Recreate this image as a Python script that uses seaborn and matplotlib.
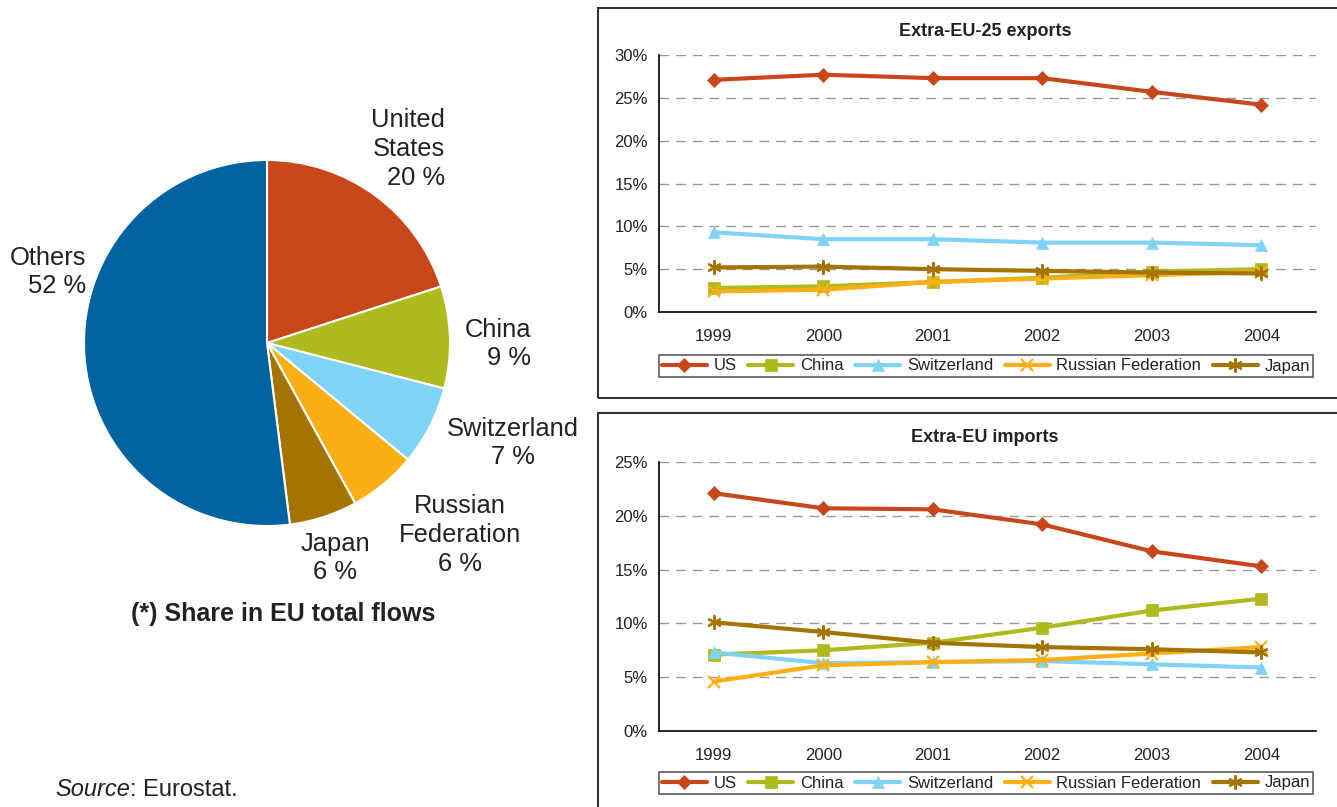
import numpy as np
import pandas as pd
import matplotlib
matplotlib.use("Agg")
import matplotlib.pyplot as plt
import seaborn as sns
from matplotlib.patches import Rectangle
from matplotlib.ticker import PercentFormatter, FixedLocator

sns.set_style("white")
plt.rcParams['font.family'] = ['Liberation Sans', 'DejaVu Sans']

# ---- data ----
years = ["1999", "2000", "2001", "2002", "2003", "2004"]
countries = ["US", "China", "Switzerland", "Russian Federation", "Japan"]

exports_us = [27.1, 27.7, 27.3, 27.3, 25.7, 24.2]
exports_china = [2.8, 3.0, 3.5, 4.0, 4.7, 5.0]
exports_switzerland = [9.3, 8.5, 8.5, 8.1, 8.1, 7.8]
exports_russia = [2.4, 2.6, 3.5, 3.9, 4.3, 4.7]
exports_japan = [5.2, 5.3, 5.0, 4.8, 4.6, 4.5]

imports_us = [22.1, 20.7, 20.6, 19.2, 16.7, 15.3]
imports_china = [7.1, 7.5, 8.2, 9.6, 11.2, 12.3]
imports_switzerland = [7.3, 6.3, 6.4, 6.5, 6.2, 5.9]
imports_russia = [4.6, 6.1, 6.4, 6.6, 7.2, 7.8]
imports_japan = [10.1, 9.2, 8.2, 7.8, 7.6, 7.3]

pie_labels = ["United\nStates", "China", "Switzerland", "Russian\nFederation", "Japan", "Others"]
pie_shares = [20, 9, 7, 6, 6, 52]

# ---- styles ----
colors = {"US": "#C8471A", "China": "#AFBA1E", "Switzerland": "#7FD3F5",
          "Russian Federation": "#FBAF17", "Japan": "#A57300"}
markers = {"US": "D", "China": "s", "Switzerland": "^",
           "Russian Federation": "x", "Japan": (6, 2, 0)}
msizes = {"US": 8.5, "China": 11, "Switzerland": 11, "Russian Federation": 11, "Japan": 12}
pie_colors = ["#C8471A", "#AFBA1E", "#7FD3F5", "#FBAF17", "#A57300", "#0062A1"]
TXT = "#222222"

W, H = 1337, 807
fig = plt.figure(figsize=(W / 100, H / 100), dpi=100)


def fx(px):
    return px / W


def fy(py):
    return 1 - py / H


def make_df(vals):
    rows = []
    for c, v in zip(countries, vals):
        for i, y in enumerate(v):
            rows.append({"country": c, "pos": i, "year": years[i], "value": y})
    return pd.DataFrame(rows)


def line_panel(rect, df, ymax, title, title_y, legend_center):
    ax = fig.add_axes(rect)
    for c in countries:
        sub = df[df.country == c]
        mk = markers[c]
        thin = mk == "x" or isinstance(mk, tuple)
        kw = dict(marker=mk, markersize=msizes[c], markeredgewidth=1.6 if thin else 0.5,
                  markeredgecolor=colors[c], markerfacecolor=colors[c])
        sns.lineplot(data=sub, x="pos", y="value", ax=ax, color=colors[c], linewidth=3,
                     label=c, legend=False, **kw)
    ax.set_xlim(-0.5, 5.5)
    ax.set_ylim(0, ymax)
    ax.set_xlabel("")
    ax.set_ylabel("")
    ax.set_yticks(np.arange(0, ymax + 0.1, 5))
    ax.yaxis.set_major_formatter(PercentFormatter(decimals=0))
    ax.set_xticks(range(len(years)))
    ax.set_xticklabels(years)
    ax.xaxis.set_minor_locator(FixedLocator(np.arange(-0.5, 5.6, 1)))
    ax.tick_params(axis="x", which="major", length=0, pad=12, labelsize=12, labelcolor=TXT)
    ax.tick_params(axis="x", which="minor", length=5, width=1, direction="out", color="black")
    ax.tick_params(axis="y", which="major", length=6, width=1, direction="inout", pad=5,
                   labelsize=12, color="black", labelcolor=TXT)
    ax.grid(False)
    for y in np.arange(5, ymax + 0.1, 5):
        ax.axhline(y, color="#999999", linewidth=1, linestyle=(0, (7, 5)), zorder=0)
    for s in ("top", "right"):
        ax.spines[s].set_visible(False)
    for s in ("left", "bottom"):
        ax.spines[s].set_color("black")
        ax.spines[s].set_linewidth(1.2)
    fig.text(fx(985), fy(title_y), title, ha="center", va="center", fontsize=13,
             fontweight="bold", color=TXT)
    handles, labels = ax.get_legend_handles_labels()
    for h in handles:
        h.set_markersize(h.get_markersize() * 0.85)
    leg = ax.legend(handles, labels, ncol=5, loc="center",
                    bbox_to_anchor=legend_center, bbox_transform=fig.transFigure,
                    frameon=True, fancybox=False, edgecolor="#333333",
                    handlelength=2.7, handletextpad=0.4, borderpad=0.2, borderaxespad=0,
                    columnspacing=0.7, prop={"size": 12})
    try:
        leg._legend_handle_box.align = "top"
    except Exception:
        pass
    for t in leg.get_texts():
        t.set_color(TXT)
    leg.get_frame().set_linewidth(1.2)
    return ax


# top panel
df_exp = make_df([exports_us, exports_china, exports_switzerland, exports_russia, exports_japan])
line_panel([fx(659), fy(312), fx(1316) - fx(659), fy(55) - fy(312)], df_exp, 30,
           "Extra-EU-25 exports", 32, (fx(986), fy(366)))

# bottom panel
df_imp = make_df([imports_us, imports_china, imports_switzerland, imports_russia, imports_japan])
line_panel([fx(659), fy(731), fx(1316) - fx(659), fy(462) - fy(731)], df_imp, 25,
           "Extra-EU imports", 438, (fx(986), fy(783)))

# frames around panels
fig.add_artist(Rectangle((fx(598), fy(398)), 1.0, fy(8) - fy(398), transform=fig.transFigure,
                         fill=False, edgecolor="#333333", linewidth=1.5))
fig.add_artist(Rectangle((fx(598), fy(830)), 1.0, fy(413) - fy(830), transform=fig.transFigure,
                         fill=False, edgecolor="#333333", linewidth=1.5))

# pie
cx, cy, r = 267, 343, 183
axp = fig.add_axes([fx(cx - r), fy(cy + r), fx(2 * r), fy(cy - r) - fy(cy + r)])
axp.pie(pie_shares, colors=pie_colors, startangle=90, counterclock=False, radius=1,
        wedgeprops=dict(edgecolor="white", linewidth=1.5))
axp.set_xlim(-1, 1)
axp.set_ylim(-1, 1)
axp.set_aspect("auto")
axp.axis("off")

label_pos = [
    (445, 149, "right"),
    (531, 344, "right"),
    (513, 443, "center"),
    (460, 535, "center"),
    (335, 558, "center"),
    (86, 272, "right"),
]
for (lx, ly, ha), name, share in zip(label_pos, pie_labels, pie_shares):
    fig.text(fx(lx), fy(ly), f"{name}\n{share} %", ha=ha, va="center", fontsize=18.4,
             color=TXT, linespacing=1.25)

fig.text(fx(283), fy(614), "(*) Share in EU total flows", ha="center", va="center",
         fontsize=18, fontweight="bold", color=TXT)

t1 = fig.text(fx(55), fy(790), "Source", ha="left", va="center", fontsize=17, style="italic",
              color=TXT)
renderer = fig.canvas.get_renderer()
bb = t1.get_window_extent(renderer=renderer)
fig.text(bb.x1 / W, fy(790), ": Eurostat.", ha="left", va="center", fontsize=17, color=TXT)

fig.savefig("out.png", dpi=100)
